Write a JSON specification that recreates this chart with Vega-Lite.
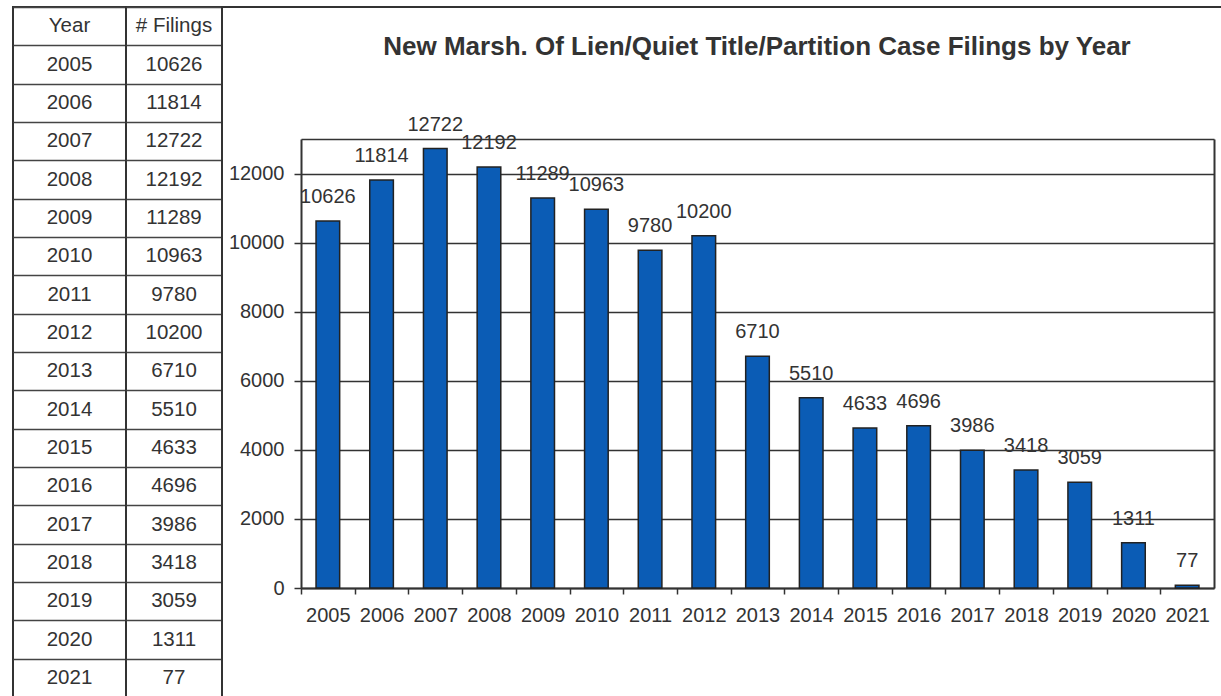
{
  "$schema": "https://vega.github.io/schema/vega-lite/v6.json",
  "padding": {"left": 12, "top": 6, "right": 0, "bottom": 0},
  "background": "white",
  "spacing": 0,
  "bounds": "flush",
  "datasets": {
    "filings": [
      {"year": "2005", "filings": 10626},
      {"year": "2006", "filings": 11814},
      {"year": "2007", "filings": 12722},
      {"year": "2008", "filings": 12192},
      {"year": "2009", "filings": 11289},
      {"year": "2010", "filings": 10963},
      {"year": "2011", "filings": 9780},
      {"year": "2012", "filings": 10200},
      {"year": "2013", "filings": 6710},
      {"year": "2014", "filings": 5510},
      {"year": "2015", "filings": 4633},
      {"year": "2016", "filings": 4696},
      {"year": "2017", "filings": 3986},
      {"year": "2018", "filings": 3418},
      {"year": "2019", "filings": 3059},
      {"year": "2020", "filings": 1311},
      {"year": "2021", "filings": 77}
    ],
    "header1": [{"label": "Year"}],
    "header2": [{"label": "# Filings"}]
  },
  "hconcat": [
    {
      "width": 113,
      "height": 690,
      "layer": [
        {
          "data": {"name": "filings"},
          "mark": {"type": "text", "fontSize": 20.5, "color": "#333", "font": "Liberation Sans"},
          "encoding": {
            "y": {"field": "year", "type": "ordinal",
              "scale": {"domain": ["hdr", "2005", "2006", "2007", "2008", "2009", "2010", "2011", "2012", "2013", "2014", "2015", "2016", "2017", "2018", "2019", "2020", "2021"], "paddingInner": 0, "paddingOuter": 0},
              "axis": {"grid": true, "gridColor": "#444", "gridWidth": 1.5, "gridOpacity": 1, "tickBand": "extent", "labels": false, "ticks": false, "domain": false, "title": null, "minExtent": 0, "maxExtent": 0}},
            "text": {"field": "year"}
          }
        },
        {
          "data": {"name": "header1"},
          "mark": {"type": "text", "fontSize": 20.5, "color": "#333", "font": "Liberation Sans"},
          "encoding": {
            "y": {"datum": "hdr", "type": "ordinal",
              "axis": {"grid": true, "gridColor": "#444", "gridWidth": 1.5, "gridOpacity": 1, "tickBand": "extent", "labels": false, "ticks": false, "domain": false, "title": null, "minExtent": 0, "maxExtent": 0}},
            "text": {"field": "label"}
          }
        }
      ]
    },
    {
      "width": 96,
      "height": 690,
      "layer": [
        {
          "data": {"name": "filings"},
          "mark": {"type": "text", "fontSize": 20.5, "color": "#333", "font": "Liberation Sans"},
          "encoding": {
            "y": {"field": "year", "type": "ordinal",
              "scale": {"domain": ["hdr", "2005", "2006", "2007", "2008", "2009", "2010", "2011", "2012", "2013", "2014", "2015", "2016", "2017", "2018", "2019", "2020", "2021"], "paddingInner": 0, "paddingOuter": 0},
              "axis": {"grid": true, "gridColor": "#444", "gridWidth": 1.5, "gridOpacity": 1, "tickBand": "extent", "labels": false, "ticks": false, "domain": false, "title": null, "minExtent": 0, "maxExtent": 0}},
            "text": {"field": "filings"}
          }
        },
        {
          "data": {"name": "header2"},
          "mark": {"type": "text", "fontSize": 20.5, "color": "#333", "font": "Liberation Sans"},
          "encoding": {
            "y": {"datum": "hdr", "type": "ordinal",
              "axis": {"grid": true, "gridColor": "#444", "gridWidth": 1.5, "gridOpacity": 1, "tickBand": "extent", "labels": false, "ticks": false, "domain": false, "title": null, "minExtent": 0, "maxExtent": 0}},
            "text": {"field": "label"}
          }
        }
      ]
    },
    {
      "width": 1000,
      "height": 690,
      "title": {
        "text": "New Marsh. Of Lien/Quiet Title/Partition Case Filings by Year",
        "fontSize": 26, "font": "Liberation Sans", "fontWeight": "bold", "color": "#333",
        "anchor": "middle", "frame": "group", "offset": -74, "baseline": "alphabetic", "dx": 35
      },
      "data": {"name": "filings"},
      "layer": [
        {
          "mark": {"type": "bar", "fill": "#0b5cb5", "stroke": "#222", "strokeWidth": 1.5},
          "encoding": {
            "x": {"field": "year", "type": "ordinal",
              "scale": {"range": [79, 992], "paddingInner": 0.56, "paddingOuter": 0.28},
              "axis": {"orient": "bottom", "offset": -109, "title": null, "labelAngle": 0, "labelFontSize": 20, "labelFont": "Liberation Sans", "labelColor": "#333", "labelPadding": 11, "tickSize": 6, "tickColor": "#333", "tickWidth": 1.5, "domainColor": "#333", "domainWidth": 2, "bandPosition": 0.5, "tickOffset": -26.85, "labelOffset": 26.85, "labelOverlap": false, "labelBound": false, "grid": false, "minExtent": 0, "maxExtent": 0}},
            "y": {"field": "filings", "type": "quantitative",
              "scale": {"domain": [0, 13000], "range": [581, 132], "nice": false},
              "axis": {"orient": "left", "offset": -79, "title": null, "values": [0, 2000, 4000, 6000, 8000, 10000, 12000, 13000], "format": "d", "labelExpr": "datum.value > 12000 ? '' : datum.label", "labelFontSize": 20, "labelFont": "Liberation Sans", "labelColor": "#333", "labelPadding": 10, "tickSize": 7, "tickColor": "#333", "tickWidth": 1.5, "tickOpacity": {"condition": {"test": "datum.value > 12000", "value": 0}, "value": 1}, "domainColor": "#333", "domainWidth": 2, "grid": true, "gridColor": "#333", "gridWidth": 1.5, "gridOpacity": 1, "minExtent": 0, "maxExtent": 0}}
          }
        },
        {
          "mark": {"type": "text", "dy": -18, "baseline": "alphabetic", "fontSize": 20, "color": "#333", "font": "Liberation Sans"},
          "encoding": {
            "x": {"field": "year", "type": "ordinal"},
            "y": {"field": "filings", "type": "quantitative",
              "axis": {"orient": "right", "offset": -8, "labels": false, "ticks": false, "grid": false, "domain": true, "domainColor": "#333", "domainWidth": 2, "title": null, "minExtent": 0, "maxExtent": 0}},
            "text": {"field": "filings"}
          }
        }
      ],
      "resolve": {"axis": {"y": "independent"}}
    }
  ],
  "config": {
    "font": "Liberation Sans",
    "concat": {"spacing": 0},
    "view": {"stroke": "#333", "strokeWidth": 2}
  }
}
